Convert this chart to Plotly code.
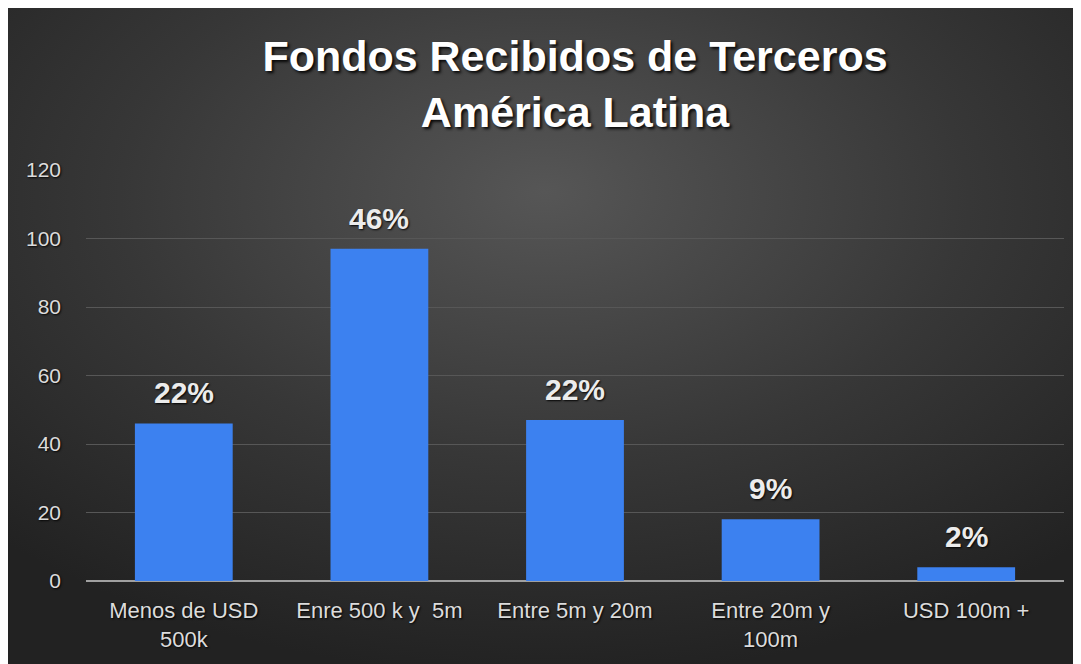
import base64
import plotly.graph_objects as go

categories = ["Menos de USD<br>500k", "Enre 500 k y  5m", "Entre 5m y 20m", "Entre 20m y<br>100m", "USD 100m +"]
values = [46, 97, 47, 18, 4]
pct_labels = ["22%", "46%", "22%", "9%", "2%"]
y_ticks = [0, 20, 40, 60, 80, 100, 120]

W, H = 1073, 656
ml, mr, mt, mb = 78, 17, 162, 83
pw, ph = W - ml - mr, H - mt - mb

svg = (
    '<svg xmlns="http://www.w3.org/2000/svg" width="1073" height="656" viewBox="0 0 1073 656" preserveAspectRatio="none">'
    '<defs><radialGradient id="g" cx="50%" cy="30%" r="72%" fx="50%" fy="28%">'
    '<stop offset="0%" stop-color="#565656"/>'
    '<stop offset="55%" stop-color="#373737"/>'
    '<stop offset="100%" stop-color="#222222"/>'
    '</radialGradient></defs>'
    '<rect width="1073" height="656" fill="url(#g)"/></svg>'
)
src = "data:image/svg+xml;base64," + base64.b64encode(svg.encode()).decode()

shadow = "1px 1px 2px rgba(0,0,0,0.9)"
FONT = "Liberation Sans, Arial"

fig = go.Figure()
fig.add_trace(go.Bar(
    x=categories, y=values, width=0.5,
    marker=dict(color="#3c81f0", line=dict(width=0)),
    hoverinfo="skip",
))

for c, v, t in zip(categories, values, pct_labels):
    fig.add_annotation(x=c, y=v, text=t, showarrow=False, yanchor="bottom", yshift=12,
                       font=dict(family=FONT, size=30, color="#ececec",
                                 weight="bold", shadow=shadow))

fig.add_layout_image(dict(
    source=src, xref="paper", yref="paper",
    x=-ml / pw, y=1 + mt / ph,
    sizex=W / pw, sizey=H / ph,
    xanchor="left", yanchor="top", sizing="stretch", layer="below",
))

fig.update_layout(
    width=W, height=H,
    margin=dict(l=ml, r=mr, t=mt, b=mb),
    paper_bgcolor="#303030",
    plot_bgcolor="rgba(0,0,0,0)",
    showlegend=False,
    title=dict(
        text="Fondos Recibidos de Terceros<br>América Latina",
        x=0.5, xanchor="center", xref="paper",
        y=1 - 63 / H, yanchor="top",
        font=dict(family=FONT, size=43, color="#ffffff",
                  weight="bold", shadow="2px 2px 3px rgba(0,0,0,0.9)"),
    ),
    xaxis=dict(
        showgrid=False, zeroline=False, showline=False,
        ticks="", ticklabelstandoff=14,
        tickfont=dict(family=FONT, size=22, color="#dcdcdc", shadow=shadow),
    ),
    yaxis=dict(
        range=[0, 120], tickvals=y_ticks,
        showgrid=True, gridcolor="#575757", gridwidth=1,
        zeroline=True, zerolinecolor="#a0a0a0", zerolinewidth=2,
        showline=False, ticks="", ticklabelstandoff=24,
        tickfont=dict(family=FONT, size=21, color="#dcdcdc", shadow=shadow),
    ),
)

fig.write_html("out.html")
